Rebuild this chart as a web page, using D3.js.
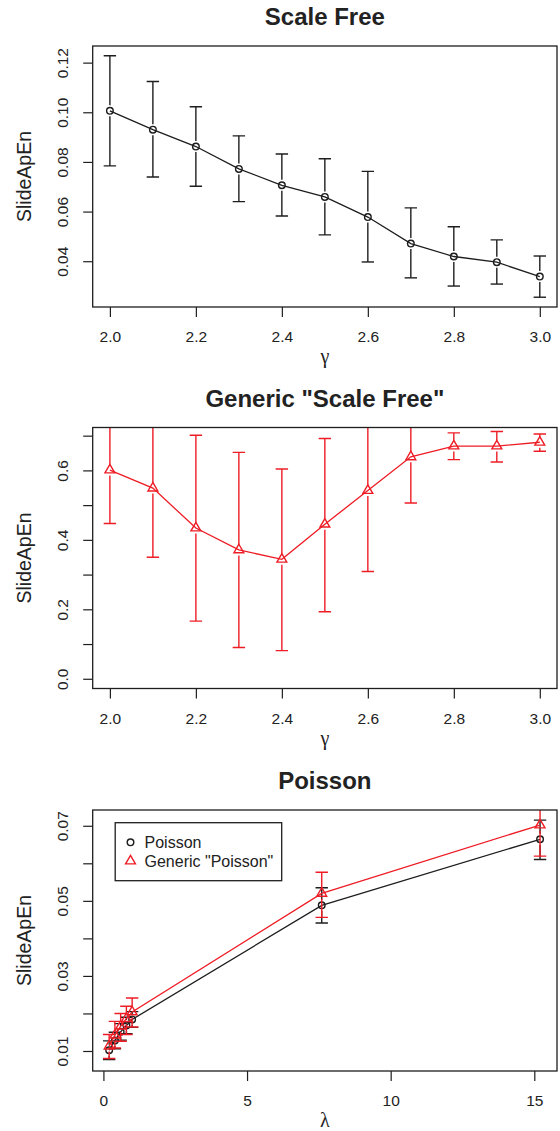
<!DOCTYPE html>
<html>
<head>
<meta charset="utf-8">
<script src="https://cdn.jsdelivr.net/npm/d3@7/dist/d3.min.js"></script>
<style>
body { margin: 0; background: #fff; }
svg text { font-family: "Liberation Sans", Arial, Helvetica, sans-serif; fill: #222; }
</style>
</head>
<body>
<div id="chart"></div>
<script>

// Scale Free (black)
var gamma = [2.0, 2.1, 2.2, 2.3, 2.4, 2.5, 2.6, 2.7, 2.8, 2.9, 3.0];
var sfMean  = [0.1006, 0.0930, 0.0862, 0.0772, 0.0706, 0.0659, 0.0578, 0.0471, 0.0419, 0.0396, 0.0338];
var sfLower = [0.0784, 0.0739, 0.0702, 0.0640, 0.0582, 0.0506, 0.0397, 0.0333, 0.0300, 0.0308, 0.0255];
var sfUpper = [0.1228, 0.1124, 0.1022, 0.0905, 0.0832, 0.0813, 0.0762, 0.0615, 0.0539, 0.0486, 0.0421];

// Generic "Scale Free" (red)
var gsfMean  = [0.601, 0.549, 0.434, 0.371, 0.344, 0.445, 0.542, 0.639, 0.670, 0.670, 0.681];
var gsfLower = [0.447, 0.350, 0.166, 0.090, 0.081, 0.193, 0.309, 0.506, 0.631, 0.624, 0.655];
var gsfUpper = [0.755, 0.748, 0.701, 0.652, 0.604, 0.692, 0.775, 0.772, 0.708, 0.712, 0.705];

// Poisson vs Generic "Poisson"
var lambda = [0.2, 0.4, 0.6, 0.8, 1.0, 7.6, 15.2];
var poisMean  = [0.0102, 0.0128, 0.0151, 0.0168, 0.0184, 0.0488, 0.0664];
var poisLower = [0.0077, 0.0106, 0.0129, 0.0146, 0.0163, 0.0441, 0.0610];
var poisUpper = [0.0127, 0.0150, 0.0173, 0.0190, 0.0205, 0.0535, 0.0715];
var genMean  = [0.0113, 0.0142, 0.0166, 0.0186, 0.0204, 0.0520, 0.0702];
var genLower = [0.0080, 0.0108, 0.0126, 0.0144, 0.0164, 0.0456, 0.0619];
var genUpper = [0.0144, 0.0179, 0.0200, 0.0219, 0.0241, 0.0576, 0.0785];

// tick labels
var gammaTicks = [2.0, 2.2, 2.4, 2.6, 2.8, 3.0];
var gammaTickLabels = ['2.0', '2.2', '2.4', '2.6', '2.8', '3.0'];
var sfTicks = [0.04, 0.06, 0.08, 0.10, 0.12];
var sfTickLabels = ['0.04', '0.06', '0.08', '0.10', '0.12'];
var gsfTicks = [0.0, 0.1, 0.2, 0.3, 0.4, 0.5, 0.6, 0.7];
var gsfTickLabels = ['0.0', '', '0.2', '', '0.4', '', '0.6', ''];
var lambdaTicks = [0, 5, 10, 15];
var lambdaTickLabels = ['0', '5', '10', '15'];
var poisTicks = [0.01, 0.02, 0.03, 0.04, 0.05, 0.06, 0.07];
var poisTickLabels = ['0.01', '', '0.03', '', '0.05', '', '0.07'];
var legendLabels = ['Poisson', 'Generic "Poisson"'];

var BLACK = '#1e1e1e';
var RED = '#ee1c25';

var svg = d3.select('#chart').append('svg')
    .attr('width', 560).attr('height', 1131);

// constructor function
ErrorPanel = function(_svg, _id, _top, _title, _xLabel, _xDomain, _yDomain) {
    this.svg = _svg;
    this.id = _id;
    this.margin = {left: 92.7, top: _top};
    this.width = 464.3;
    this.height = 261;
    this.title = _title;
    this.xLabel = _xLabel;

    this.x = d3.scaleLinear().domain(_xDomain).range([0, this.width]);
    this.y = d3.scaleLinear().domain(_yDomain).range([this.height, 0]);

    this.initVis();
}

ErrorPanel.prototype.initVis = function() {
    var vis = this;

    vis.g = vis.svg.append('g')
        .attr('transform', 'translate(' + vis.margin.left + ' ' + vis.margin.top + ')');

    vis.g.append('clipPath').attr('id', 'clip-' + vis.id)
        .append('rect').attr('width', vis.width).attr('height', vis.height);

    vis.marks = vis.g.append('g').attr('clip-path', 'url(#clip-' + vis.id + ')');

    // title
    vis.g.append('text')
        .attr('x', vis.width / 2).attr('y', -29)
        .attr('dy', '0.35em')
        .attr('text-anchor', 'middle')
        .style('font-size', '24px').style('font-weight', 'bold')
        .text(vis.title);

    // axis titles
    vis.g.append('text')
        .attr('x', vis.width / 2).attr('y', vis.height + 50)
        .attr('dy', '0.3em')
        .attr('text-anchor', 'middle')
        .style('font-family', '"Liberation Serif", "DejaVu Serif", serif')
        .style('font-size', '20px')
        .text(vis.xLabel);

    vis.g.append('text')
        .attr('transform', 'translate(-68.5 ' + (vis.height / 2) + ') rotate(-90)')
        .attr('dy', '0.35em')
        .attr('text-anchor', 'middle')
        .style('font-size', '19.5px')
        .text('SlideApEn');
}

ErrorPanel.prototype.axes = function(xTicks, xLabels, yTicks, yLabels) {
    var vis = this;

    var xAxisCall = d3.axisBottom(vis.x)
        .tickValues(xTicks)
        .tickFormat(function(d, i) { return xLabels[i]; })
        .tickSize(10).tickPadding(14);
    var xAxis = vis.g.append('g')
        .attr('transform', 'translate(0 ' + vis.height + ')')
        .call(xAxisCall);

    var yAxisCall = d3.axisLeft(vis.y)
        .tickValues(yTicks)
        .tickFormat(function(d, i) { return yLabels[i]; })
        .tickSize(9.5);
    var yAxis = vis.g.append('g').call(yAxisCall);

    yAxis.selectAll('text')
        .attr('x', null)
        .attr('transform', 'translate(-30.5 0) rotate(-90)')
        .attr('dy', '0.35em')
        .attr('text-anchor', 'middle');

    [xAxis, yAxis].forEach(function(a) {
        a.select('.domain').remove();
        a.selectAll('line').attr('stroke', BLACK).attr('stroke-width', 1.2);
        a.selectAll('text')
            .attr('fill', '#222')
            .style('font-family', '"Liberation Sans", Arial, sans-serif')
            .style('font-size', '15.5px');
    });

    // frame
    vis.g.append('rect')
        .attr('width', vis.width).attr('height', vis.height)
        .attr('fill', 'none').attr('stroke', BLACK).attr('stroke-width', 1.3);
}

ErrorPanel.prototype.series = function(xs, mean, lower, upper, color, shape) {
    var vis = this;
    var rows = xs.map(function(d, i) {
        return {x: d, m: mean[i], lo: lower[i], hi: upper[i]};
    });

    var line = d3.line()
        .x(function(d) { return vis.x(d.x); })
        .y(function(d) { return vis.y(d.m); });

    vis.marks.append('path')
        .datum(rows)
        .attr('d', line)
        .attr('fill', 'none').attr('stroke', color).attr('stroke-width', 1.3);

    var sym = shape === 'triangle'
        ? d3.symbol().type(d3.symbolTriangle).size(42)
        : d3.symbol().type(d3.symbolCircle).size(Math.PI * 3.3 * 3.3);

    vis.marks.selectAll(null)
        .data(rows).enter().append('path')
        .attr('transform', function(d) { return 'translate(' + vis.x(d.x) + ' ' + vis.y(d.m) + ')'; })
        .attr('d', sym)
        .attr('fill', 'none').attr('stroke', color).attr('stroke-width', 1.4);

    // error bars
    var bars = vis.marks.selectAll(null)
        .data(rows).enter().append('g')
        .attr('stroke', color).attr('stroke-width', 1.4);
    var cap = 6.2;
    bars.append('line')
        .attr('x1', function(d) { return vis.x(d.x); })
        .attr('x2', function(d) { return vis.x(d.x); })
        .attr('y1', function(d) { return vis.y(d.hi); })
        .attr('y2', function(d) { return vis.y(d.m) - 5.5; });
    bars.append('line')
        .attr('x1', function(d) { return vis.x(d.x); })
        .attr('x2', function(d) { return vis.x(d.x); })
        .attr('y1', function(d) { return vis.y(d.m) + 5.5; })
        .attr('y2', function(d) { return vis.y(d.lo); });
    ['hi', 'lo'].forEach(function(k) {
        bars.append('line')
            .attr('x1', function(d) { return vis.x(d.x) - cap; })
            .attr('x2', function(d) { return vis.x(d.x) + cap; })
            .attr('y1', function(d) { return vis.y(d[k]); })
            .attr('y2', function(d) { return vis.y(d[k]); });
    });
}

// Scale Free
var p1 = new ErrorPanel(svg, 'sf', 46, 'Scale Free', 'γ', [1.96, 3.04], [0.02156, 0.1267]);
p1.series(gamma, sfMean, sfLower, sfUpper, BLACK, 'circle');
p1.axes(gammaTicks, gammaTickLabels, sfTicks, sfTickLabels);

// Generic "Scale Free"
var p2 = new ErrorPanel(svg, 'gsf', 427.5, 'Generic "Scale Free"', 'γ', [1.96, 3.04], [-0.028, 0.7235]);
p2.series(gamma, gsfMean, gsfLower, gsfUpper, RED, 'triangle');
p2.axes(gammaTicks, gammaTickLabels, gsfTicks, gsfTickLabels);

// Poisson
var p3 = new ErrorPanel(svg, 'pois', 810, 'Poisson', 'λ', [-0.373, 15.79], [0.00467, 0.0742]);
p3.series(lambda, poisMean, poisLower, poisUpper, BLACK, 'circle');
p3.series(lambda, genMean, genLower, genUpper, RED, 'triangle');
p3.axes(lambdaTicks, lambdaTickLabels, poisTicks, poisTickLabels);

// legend
var legend = p3.g.append('g').attr('transform', 'translate(22.5 12.7)');
legend.append('rect')
    .attr('width', 166.5).attr('height', 58)
    .attr('fill', '#fff').attr('stroke', BLACK).attr('stroke-width', 1.3);
var items = legend.selectAll(null)
    .data(legendLabels).enter().append('g')
    .attr('transform', function(d, i) { return 'translate(15.3 ' + (19.6 + i * 18.7) + ')'; });
items.append('path')
    .attr('d', function(d, i) {
        return i === 0
            ? d3.symbol().type(d3.symbolCircle).size(Math.PI * 3.3 * 3.3)()
            : d3.symbol().type(d3.symbolTriangle).size(42)();
    })
    .attr('fill', 'none')
    .attr('stroke', function(d, i) { return i === 0 ? BLACK : RED; })
    .attr('stroke-width', 1.4);
items.append('text')
    .attr('x', 14).attr('dy', '0.35em')
    .style('font-size', '16px')
    .text(function(d) { return d; });

</script>
</body>
</html>
